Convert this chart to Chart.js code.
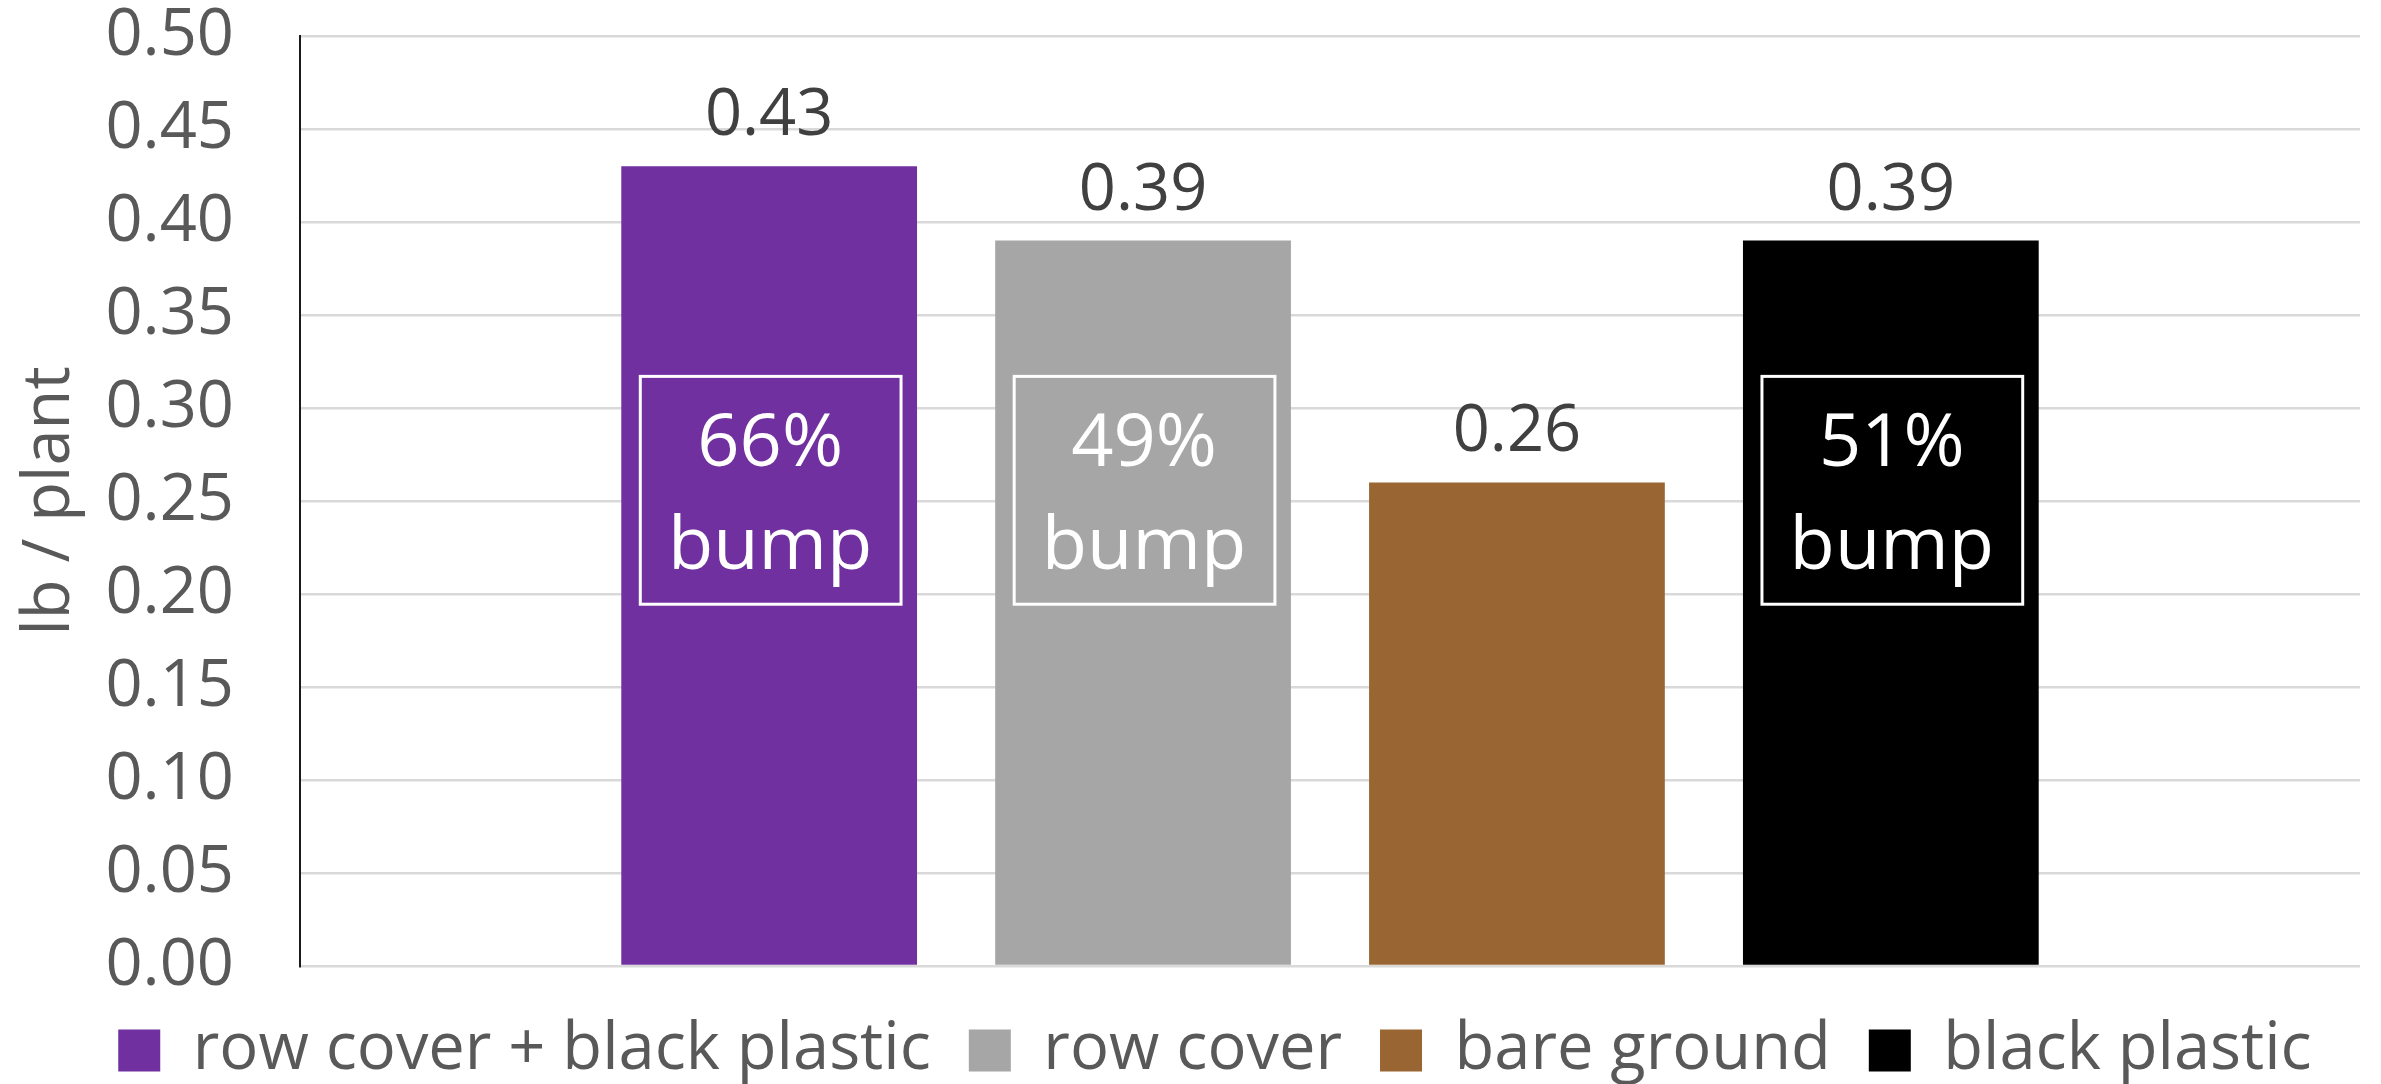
<!DOCTYPE html>
<html>
<head>
<meta charset="utf-8">
<title>Yield per plant by mulch treatment</title>
<script src="https://cdn.jsdelivr.net/npm/chart.js@4.4.1/dist/chart.umd.min.js"></script>
<style>
  html, body { margin: 0; padding: 0; background: #ffffff; overflow: hidden; }
  #wrap { position: relative; width: 2381px; height: 1093px; }
</style>
</head>
<body>
<div id="wrap"><canvas id="chart"></canvas></div>
<script>
// Treatments (one dataset each) and their yield, lb per plant
const categories = [''];
const seriesNames = ['row cover + black plastic', 'row cover', 'bare ground', 'black plastic'];
const seriesValues = [0.43, 0.39, 0.26, 0.39];
// Increase over bare ground, shown inside each bar
const bumpPercents = ['66%', '49%', '', '51%'];
const bumpWord = 'bump';
// Value-axis ticks
const yTickValues = [0.00, 0.05, 0.10, 0.15, 0.20, 0.25, 0.30, 0.35, 0.40, 0.45, 0.50];
const yTitle = 'lb / plant';

const seriesColors = ['#7030A0', '#A6A6A6', '#996633', '#000000'];
const FONT = '"Open Sans", "DejaVu Sans", sans-serif';

// Value label above each bar plus the framed "bump" callouts
const barAnnotations = {
  id: 'barAnnotations',
  afterDatasetsDraw(chart) {
    const { ctx, scales: { y } } = chart;
    ctx.save();
    chart.data.datasets.forEach((ds, i) => {
      const meta = chart.getDatasetMeta(i);
      const bar = meta.data[0];
      if (!bar) return;
      const v = ds.data[0];
      // value label
      ctx.fillStyle = '#404040';
      ctx.font = '65px ' + FONT;
      ctx.textAlign = 'center';
      ctx.textBaseline = 'alphabetic';
      ctx.fillText(v.toFixed(2), bar.x, bar.y - 31);

      const pct = bumpPercents[i];
      if (!pct) return;
      const half = bar.width / 2;
      const left = bar.x - half + 19;
      const right = bar.x + half - 16;
      const top = y.getPixelForValue(0.317);
      const bottom = y.getPixelForValue(0.1945);
      ctx.strokeStyle = '#ffffff';
      ctx.lineWidth = 3;
      ctx.strokeRect(left, top, right - left, bottom - top);
      ctx.fillStyle = '#ffffff';
      ctx.font = '74px ' + FONT;
      ctx.fillText(pct, bar.x + 1, top + 90);
      ctx.fillText(bumpWord, bar.x + 1, top + 193);
    });
    ctx.restore();
  }
};

new Chart(document.getElementById('chart'), {
  type: 'bar',
  data: {
    labels: categories,
    datasets: seriesNames.map((name, i) => ({
      label: name,
      data: [seriesValues[i]],
      backgroundColor: seriesColors[i],
      borderWidth: 0,
      categoryPercentage: 0.726,
      barPercentage: 0.791
    }))
  },
  options: {
    responsive: true,
    maintainAspectRatio: false,
    animation: false,
    events: [],
    layout: { padding: { top: 36, right: 21, left: 70, bottom: 0 } },
    plugins: {
      tooltip: { enabled: false },
      legend: {
        position: 'bottom',
        align: 'center',
        labels: {
          font: { family: FONT, size: 65 },
          color: '#595959',
          boxWidth: 42,
          boxHeight: 42,
          padding: 38
        }
      }
    },
    scales: {
      x: {
        grid: { display: false },
        border: { display: false },
        ticks: { display: false },
        afterFit(scale) { scale.height = 14; }
      },
      y: {
        min: 0,
        max: 0.5,
        afterBuildTicks(scale) { scale.ticks = yTickValues.map(v => ({ value: v })); },
        afterFit(scale) {
          scale.width = 230;
          scale.paddingTop = 0;
          scale.paddingBottom = 0;
        },
        ticks: {
          font: { family: FONT, size: 65 },
          color: '#595959',
          padding: 66,
          callback: v => Number(v).toFixed(2)
        },
        grid: { color: '#d9d9d9', lineWidth: 2.5, drawTicks: false, tickLength: 0 },
        border: { display: true, color: '#1a1a1a', width: 2 },
        title: {
          display: true,
          text: yTitle,
          color: '#595959',
          font: { family: FONT, size: 65 },
          padding: { top: -59, bottom: 0 }
        }
      }
    }
  },
  plugins: [barAnnotations]
});
</script>
</body>
</html>
